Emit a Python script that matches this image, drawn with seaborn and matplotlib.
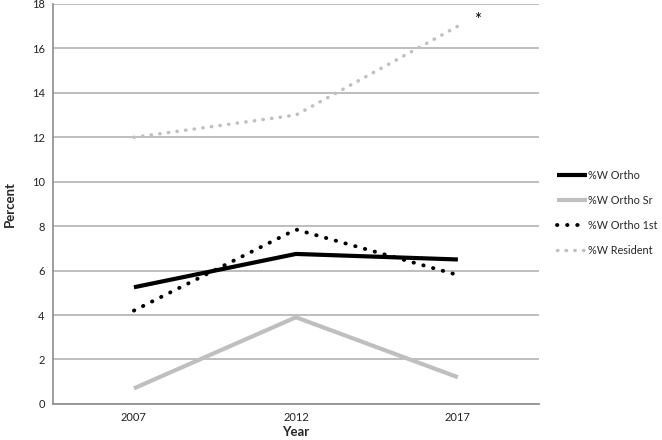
import numpy as np
import pandas as pd
import seaborn as sns
import matplotlib.pyplot as plt

years = ["2007", "2012", "2017"]
series_names = ["%W Ortho", "%W Ortho Sr", "%W Ortho 1st", "%W Resident"]
w_ortho = [5.25, 6.75, 6.5]
w_ortho_sr = [0.7, 3.9, 1.2]
w_ortho_1st = [4.2, 7.85, 5.8]
w_resident = [12.0, 13.0, 17.0]

sns.set_theme(style="white")
plt.rcParams['font.family'] = ['Lato', 'DejaVu Sans']

df = pd.DataFrame({
    "Year": np.tile(np.arange(len(years)), 4),
    "Percent": w_ortho + w_ortho_sr + w_ortho_1st + w_resident,
    "Series": np.repeat(series_names, len(years)),
})

styles = {
    "%W Ortho": dict(color="black", lw=3.0, ls="-"),
    "%W Ortho Sr": dict(color="#bfbfbf", lw=3.0, ls="-"),
    "%W Ortho 1st": dict(color="black", lw=2.8, ls=(0, (0.1, 2.5))),
    "%W Resident": dict(color="#bfbfbf", lw=2.5, ls=(0, (0.1, 2.4))),
}

fig = plt.figure(figsize=(6.62, 4.4), dpi=100)
ax = fig.add_axes([0.080, 0.082, 0.734, 0.909])

for name in series_names:
    st = styles[name]
    sns.lineplot(data=df[df["Series"] == name], x="Year", y="Percent", ax=ax,
                 color=st["color"], linewidth=st["lw"], linestyle=st["ls"],
                 label=name, dash_capstyle="round", solid_capstyle="butt")

ax.set_xlim(-0.5, 2.5)
ax.set_ylim(0, 18)
ax.set_yticks(range(0, 19, 2))
ax.set_xticks(range(len(years)))
ax.set_xticklabels(years)
ax.tick_params(axis="both", labelsize=8, length=0, pad=6, colors="#222222")
ax.yaxis.grid(True, color="#b3b3b3", lw=1.2)
ax.set_axisbelow(True)
for side in ["top", "right"]:
    ax.spines[side].set_visible(False)
for side in ["left", "bottom"]:
    ax.spines[side].set_color("#8c8c8c")
    ax.spines[side].set_linewidth(1.2)

ax.set_xlabel("Year", fontsize=9.5, fontweight="bold", labelpad=2)
ax.set_ylabel("Percent", fontsize=9.5, fontweight="bold", labelpad=11)

ax.text(2.12, 17.3, "*", fontsize=12, ha="center", va="center", color="black")

fig.legend(*ax.get_legend_handles_labels(), loc="upper left",
           bbox_to_anchor=(0.842, 0.614), frameon=False,
           fontsize=7.8, handlelength=2.7, handletextpad=0.15, labelspacing=1.3,
           borderaxespad=0, borderpad=0)
ax.get_legend().remove()

fig.savefig("out.png", dpi=100)
